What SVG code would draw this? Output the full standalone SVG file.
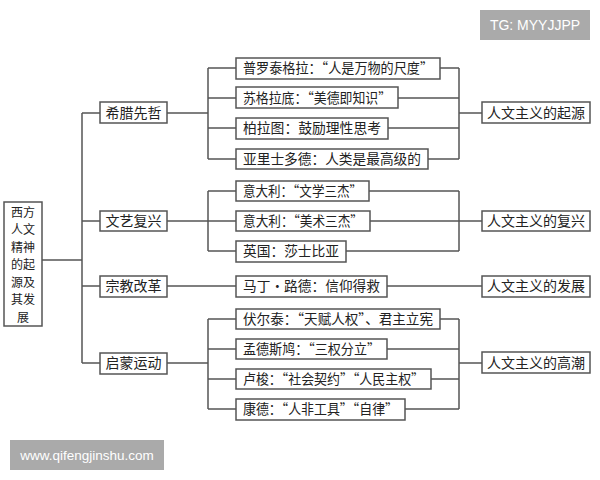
<svg xmlns="http://www.w3.org/2000/svg" width="600" height="480" viewBox="0 0 600 480">
<style>
.b{fill:#fff;stroke:#555;stroke-width:1.5}
.t{font-family:"Noto Sans CJK SC","Noto Sans",sans-serif;font-size:14px;fill:#222}
.r{font-family:"Noto Sans CJK SC","Noto Sans",sans-serif;font-size:12px;fill:#222}
.c{fill:none;stroke:#555;stroke-width:1.5}
.w{fill:#aaa}
.wt{font-family:"Liberation Sans",Arial,sans-serif;fill:#fff}
</style>
<rect width="600" height="480" fill="#fff"/>
<g id="connectors">
<path class="c" d="M42 260H82M82 113V363M82 113H100M82 221H100M82 286H100M82 363H100"/>
<path class="c" d="M167 113H208M208 68V159M208 68H236M208 98H236M208 128H236M208 159H236"/>
<path class="c" d="M167 221H236M208 191V251M208 191H236M208 251H236"/>
<path class="c" d="M167 286H236"/>
<path class="c" d="M167 363H208M208 319V409M208 319H236M208 349H236M208 379H236M208 409H236"/>
<path class="c" d="M440 68H459M398 98H459M388 128H459M428 159H459M459 68V159M459 113H482"/>
<path class="c" d="M369 191H459M370 221H482M346 251H459M459 191V251"/>
<path class="c" d="M387 286H482"/>
<path class="c" d="M440 319H459M387 349H459M431 379H459M405 409H459M459 319V409M459 363H482"/>
</g>
<g id="root"><rect class="b" x="4" y="202" width="38" height="124"/>
<text class="r" x="23" text-anchor="middle"><tspan x="23" y="216.5">西方</tspan><tspan x="23" y="234">人文</tspan><tspan x="23" y="251.5">精神</tspan><tspan x="23" y="269">的起</tspan><tspan x="23" y="286.5">源及</tspan><tspan x="23" y="304">其发</tspan><tspan x="23" y="321.5">展</tspan></text></g>
<g id="n-greece"><rect class="b" x="100" y="102" width="67" height="21"/><text class="t" x="133.5" y="118" text-anchor="middle">希腊先哲</text></g>
<g id="n-renaissance"><rect class="b" x="100" y="211" width="67" height="20"/><text class="t" x="133.5" y="226" text-anchor="middle">文艺复兴</text></g>
<g id="n-reformation"><rect class="b" x="100" y="276" width="67" height="21"/><text class="t" x="133.5" y="291" text-anchor="middle">宗教改革</text></g>
<g id="n-enlightenment"><rect class="b" x="100" y="353" width="67" height="21"/><text class="t" x="133.5" y="368" text-anchor="middle">启蒙运动</text></g>
<g id="n-protagoras"><rect class="b" x="236" y="58" width="204" height="21"/><text class="t" x="243" y="73" textLength="190" lengthAdjust="spacingAndGlyphs">普罗泰格拉：“人是万物的尺度”</text></g>
<g id="n-socrates"><rect class="b" x="236" y="87" width="162" height="21"/><text class="t" x="243" y="103" textLength="148" lengthAdjust="spacingAndGlyphs">苏格拉底：“美德即知识”</text></g>
<g id="n-plato"><rect class="b" x="236" y="118" width="152" height="21"/><text class="t" x="243" y="133" textLength="138" lengthAdjust="spacingAndGlyphs">柏拉图：鼓励理性思考</text></g>
<g id="n-aristotle"><rect class="b" x="236" y="149" width="192" height="20"/><text class="t" x="243" y="164" textLength="178" lengthAdjust="spacingAndGlyphs">亚里士多德：人类是最高级的</text></g>
<g id="n-lit"><rect class="b" x="236" y="181" width="133" height="20"/><text class="t" x="243" y="196" textLength="119" lengthAdjust="spacingAndGlyphs">意大利：“文学三杰”</text></g>
<g id="n-art"><rect class="b" x="236" y="211" width="134" height="20"/><text class="t" x="243" y="226" textLength="120" lengthAdjust="spacingAndGlyphs">意大利：“美术三杰”</text></g>
<g id="n-england"><rect class="b" x="236" y="241" width="110" height="21"/><text class="t" x="243" y="256" textLength="96" lengthAdjust="spacingAndGlyphs">英国：莎士比亚</text></g>
<g id="n-luther"><rect class="b" x="236" y="276" width="151" height="21"/><text class="t" x="243" y="291" textLength="137" lengthAdjust="spacingAndGlyphs">马丁·路德：信仰得救</text></g>
<g id="n-voltaire"><rect class="b" x="236" y="309" width="204" height="20"/><text class="t" x="243" y="324" textLength="190" lengthAdjust="spacingAndGlyphs">伏尔泰：“天赋人权”、君主立宪</text></g>
<g id="n-montesquieu"><rect class="b" x="236" y="339" width="151" height="20"/><text class="t" x="243" y="354" textLength="137" lengthAdjust="spacingAndGlyphs">孟德斯鸠：“三权分立”</text></g>
<g id="n-rousseau"><rect class="b" x="236" y="369" width="195" height="20"/><text class="t" x="243" y="384" textLength="181" lengthAdjust="spacingAndGlyphs">卢梭：“社会契约”“人民主权”</text></g>
<g id="n-kant"><rect class="b" x="236" y="399" width="169" height="21"/><text class="t" x="243" y="414" textLength="155" lengthAdjust="spacingAndGlyphs">康德：“人非工具”“自律”</text></g>
<g id="r-origin"><rect class="b" x="482" y="102" width="108" height="21"/><text class="t" x="536" y="118" text-anchor="middle">人文主义的起源</text></g>
<g id="r-revival"><rect class="b" x="482" y="211" width="108" height="20"/><text class="t" x="536" y="226" text-anchor="middle">人文主义的复兴</text></g>
<g id="r-develop"><rect class="b" x="482" y="276" width="108" height="21"/><text class="t" x="536" y="291" text-anchor="middle">人文主义的发展</text></g>
<g id="r-peak"><rect class="b" x="482" y="352" width="108" height="21"/><text class="t" x="536" y="368" text-anchor="middle">人文主义的高潮</text></g>
<g id="wm1"><rect class="w" x="480" y="10" width="110" height="30"/><text class="wt" x="535" y="30" font-size="14" text-anchor="middle">TG: MYYJJPP</text></g>
<g id="wm2"><rect class="w" x="10" y="440" width="154" height="30"/><text class="wt" x="87" y="459.5" font-size="13.5" text-anchor="middle">www.qifengjinshu.com</text></g>
</svg>
